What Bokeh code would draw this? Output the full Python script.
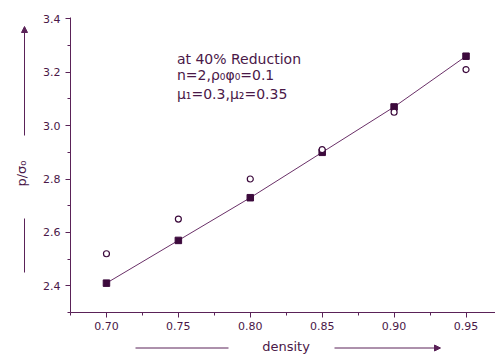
import numpy as np
from bokeh.plotting import figure
from bokeh.models import Range1d, Label, Arrow, NormalHead, FixedTicker, LinearAxis
from bokeh.embed import file_html
from bokeh.resources import INLINE

# data
density = [0.70, 0.75, 0.80, 0.85, 0.90, 0.95]
theory = [2.41, 2.57, 2.73, 2.90, 3.07, 3.26]
experiment = [2.52, 2.65, 2.80, 2.91, 3.05, 3.21]
x_ticks = [0.70, 0.75, 0.80, 0.85, 0.90, 0.95]
x_minor = [0.675, 0.725, 0.775, 0.825, 0.875, 0.925]
y_ticks = [2.4, 2.6, 2.8, 3.0, 3.2, 3.4]
y_minor = [2.3, 2.5, 2.7, 2.9, 3.1, 3.3]
x_title = "density"
y_title = "p/σ₀"
notes = ["at 40% Reduction", "n=2,ρ₀φ₀=0.1", "μ₁=0.3,μ₂=0.35"]

C_TEXT = "#4a1848"
C_AXIS = "#5a2258"
C_MARK = "#3c0a3c"
C_LINE = "#6a3068"
FONT = "DejaVu Sans"

W, H = 495, 354
# axis box inside the canvas (pixels): left 70, right 495, top 17, bottom 312
X0, X1 = 0.675, 0.9705
Y0, Y1 = 2.3, 3.405
kx = (X1 - X0) / (W - 70)
ky = (Y1 - Y0) / (312 - 17)

p = figure(width=W, height=H, output_backend="svg", toolbar_location=None,
           x_range=Range1d(X0 - 70 * kx, X1), y_range=Range1d(Y0 - (H - 312) * ky, Y1 + 17 * ky),
           x_axis_location=None, y_axis_location=None,
           min_border=0)
p.outline_line_color = None
p.xgrid.visible = False
p.ygrid.visible = False
p.background_fill_color = "white"
p.border_fill_color = "white"

xa = LinearAxis(fixed_location=Y0, bounds=(X0, X1),
                ticker=FixedTicker(ticks=x_ticks, minor_ticks=x_minor))
ya = LinearAxis(fixed_location=X0, bounds=(Y0, Y1),
                ticker=FixedTicker(ticks=y_ticks, minor_ticks=y_minor))
for ax in (xa, ya):
    ax.axis_line_color = C_AXIS
    ax.major_tick_line_color = C_AXIS
    ax.minor_tick_line_color = C_AXIS
    ax.major_tick_in = 0
    ax.major_tick_out = 5
    ax.minor_tick_in = 0
    ax.minor_tick_out = 3
    ax.major_label_text_font = FONT
    ax.major_label_text_font_size = "11px"
    ax.major_label_text_color = C_TEXT

xa.major_label_overrides = {t: f"{t:.2f}" for t in x_ticks}
xa.major_label_standoff = 4
ya.major_label_overrides = {t: f"{t:.1f}" for t in y_ticks}
ya.major_label_standoff = 5

p.add_layout(xa, "below")
p.add_layout(ya, "left")

p.line(density, theory, line_color=C_LINE, line_width=1)
p.scatter(density, theory, marker="square", size=6.5, fill_color=C_MARK, line_color=C_MARK)
p.scatter(density, experiment, marker="circle", size=6, fill_color="white", line_color=C_MARK, line_width=1.2)

note_y = [3.249, 3.189, 3.117]
for t, yy in zip(notes, note_y):
    p.add_layout(Label(x=0.749, y=yy, text=t, text_font=FONT, text_font_size="14px",
                       text_color=C_TEXT, text_baseline="alphabetic"))

# axis titles
p.add_layout(Label(x=285.5, y=H - 346, x_units="screen", y_units="screen", text=x_title,
                   text_font=FONT, text_font_size="13px", text_color=C_TEXT,
                   text_align="center", text_baseline="middle"))
p.add_layout(Label(x=21, y=H - 173, x_units="screen", y_units="screen", text=y_title,
                   angle=np.pi / 2, text_font=FONT, text_font_size="13px", text_color=C_TEXT,
                   text_align="center", text_baseline="middle"))

# decorative axis-direction lines and arrows (screen units, canvas = frame here)
def seg(x0, y0, x1, y1, head=False):
    end = NormalHead(size=6, fill_color=C_AXIS, line_color=C_AXIS) if head else None
    p.add_layout(Arrow(x_start=x0, y_start=y0, x_end=x1, y_end=y1,
                       start_units="screen", end_units="screen",
                       line_color=C_AXIS, line_width=1, end=end))

# vertical (y direction), canvas x = 24
seg(24, H - 135, 24, H - 26, head=True)
seg(24, H - 218, 24, H - 272)
# horizontal (x direction), canvas y = 347.5
seg(135, H - 347.5, 228, H - 347.5)
seg(334, H - 347.5, 440, H - 347.5, head=True)

open("out.html", "w").write(file_html(p, INLINE))
